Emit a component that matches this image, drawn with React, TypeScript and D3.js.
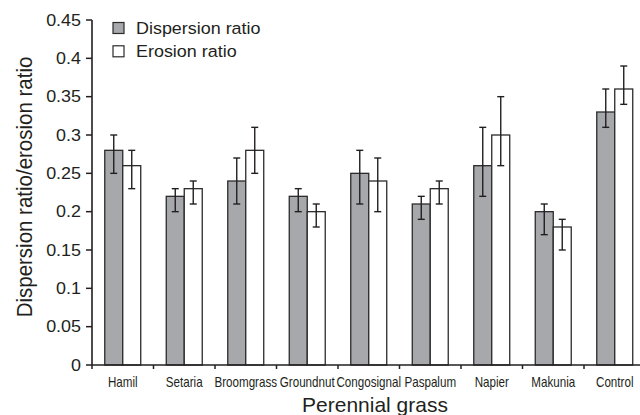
import React from "react";
import * as d3 from "d3";

const categories = ["Hamil", "Setaria", "Broomgrass", "Groundnut", "Congosignal", "Paspalum", "Napier", "Makunia", "Control"];
const seriesNames = ["Dispersion ratio", "Erosion ratio"];
const dispersion = [0.28, 0.22, 0.24, 0.22, 0.25, 0.21, 0.26, 0.20, 0.33];
const dispersionLow = [0.25, 0.20, 0.21, 0.20, 0.21, 0.19, 0.22, 0.17, 0.31];
const dispersionHigh = [0.30, 0.23, 0.27, 0.23, 0.28, 0.22, 0.31, 0.21, 0.36];
const erosion = [0.26, 0.23, 0.28, 0.20, 0.24, 0.23, 0.30, 0.18, 0.36];
const erosionLow = [0.23, 0.21, 0.25, 0.18, 0.20, 0.21, 0.26, 0.15, 0.34];
const erosionHigh = [0.28, 0.24, 0.31, 0.21, 0.27, 0.24, 0.35, 0.19, 0.39];
const yTicks = [0, 0.05, 0.1, 0.15, 0.2, 0.25, 0.3, 0.35, 0.4, 0.45];
const yTickLabels = ["0", "0.05", "0.1", "0.15", "0.2", "0.25", "0.3", "0.35", "0.4", "0.45"];

const W = 640, H = 415;
const x0 = 92, x1 = 645.5, y0 = 365, yTop = 20;
const fills = ["#a7a8ab", "#ffffff"];
const font = "'Liberation Sans', Arial, sans-serif";
const ink = "#231f20";

export default function App() {
  const pIn = 0.415;
  const xScale = d3.scaleBand<string>().domain(categories).range([x0, x1]).paddingInner(pIn).paddingOuter(pIn / 2);
  const xInner = d3.scaleBand<string>().domain(seriesNames).range([0, xScale.bandwidth()]).padding(0);
  const yScale = d3.scaleLinear().domain([0, 0.45]).range([y0, yTop]);
  const step = xScale.step();

  const series = [
    { name: seriesNames[0], vals: dispersion, lo: dispersionLow, hi: dispersionHigh },
    { name: seriesNames[1], vals: erosion, lo: erosionLow, hi: erosionHigh },
  ];
  const capW = 7;
  const boundaries = d3.range(categories.length + 1).map((i) => x0 + i * step);

  return (
    <svg width={W} height={H} style={{ position: "absolute", left: 0, top: 0, background: "#fff" }} fontFamily={font}>
      {/* bars */}
      {categories.map((c, i) => (
        <g key={c}>
          {series.map((s, j) => {
            const bx = (xScale(c) as number) + (xInner(s.name) as number);
            const bw = xInner.bandwidth();
            const by = yScale(s.vals[i]);
            return (
              <rect key={s.name} x={bx} y={by} width={bw} height={y0 - by} fill={fills[j]} stroke="#2b2b2b" strokeWidth={1.3} />
            );
          })}
          {series.map((s) => {
            const cx = (xScale(c) as number) + (xInner(s.name) as number) + xInner.bandwidth() / 2;
            const yl = yScale(s.lo[i]), yh = yScale(s.hi[i]);
            return (
              <g key={s.name + "e"} stroke={ink} strokeWidth={1.4}>
                <line x1={cx} x2={cx} y1={yl} y2={yh} />
                <line x1={cx - capW / 2} x2={cx + capW / 2} y1={yh} y2={yh} />
                <line x1={cx - capW / 2} x2={cx + capW / 2} y1={yl} y2={yl} />
              </g>
            );
          })}
        </g>
      ))}

      {/* y axis */}
      <line x1={x0} x2={x0} y1={yTop} y2={y0} stroke={ink} strokeWidth={1.6} />
      {yTicks.map((t, i) => (
        <g key={t}>
          <line x1={x0 - 6} x2={x0} y1={yScale(t)} y2={yScale(t)} stroke={ink} strokeWidth={1.5} />
          <text transform={`translate(81,${yScale(t)}) scale(1.12,1)`} textAnchor="end" dy="0.35em" fontSize={16} fill={ink}>
            {yTickLabels[i]}
          </text>
        </g>
      ))}

      {/* x axis */}
      <line x1={x0} x2={x1} y1={y0} y2={y0} stroke={ink} strokeWidth={1.6} />
      {boundaries.map((bx, i) => (
        <line key={i} x1={bx} x2={bx} y1={y0} y2={y0 + 4} stroke={ink} strokeWidth={1.5} />
      ))}
      {categories.map((c) => (
        <text key={c} transform={`translate(${(xScale(c) as number) + xScale.bandwidth() / 2},387) scale(0.83,1)`} textAnchor="middle" fontSize={14} fill={ink}>
          {c}
        </text>
      ))}

      {/* axis titles */}
      <text transform="translate(375,412) scale(1.05,1)" textAnchor="middle" fontSize={20} fill={ink}>
        Perennial grass
      </text>
      <text transform="translate(32,187) rotate(-90) scale(1,1.05)" textAnchor="middle" fontSize={20.5} fill={ink}>
        Dispersion ratio/erosion ratio
      </text>

      {/* legend */}
      {series.map((s, j) => (
        <g key={s.name} transform={`translate(113,${22.5 + j * 23.3})`}>
          <rect x={0} y={0} width={11} height={11} fill={fills[j]} stroke="#2b2b2b" strokeWidth={1.2} />
          <text transform="translate(23,11.6) scale(1.1,1)" fontSize={16.3} fill={ink}>
            {s.name}
          </text>
        </g>
      ))}
    </svg>
  );
}
